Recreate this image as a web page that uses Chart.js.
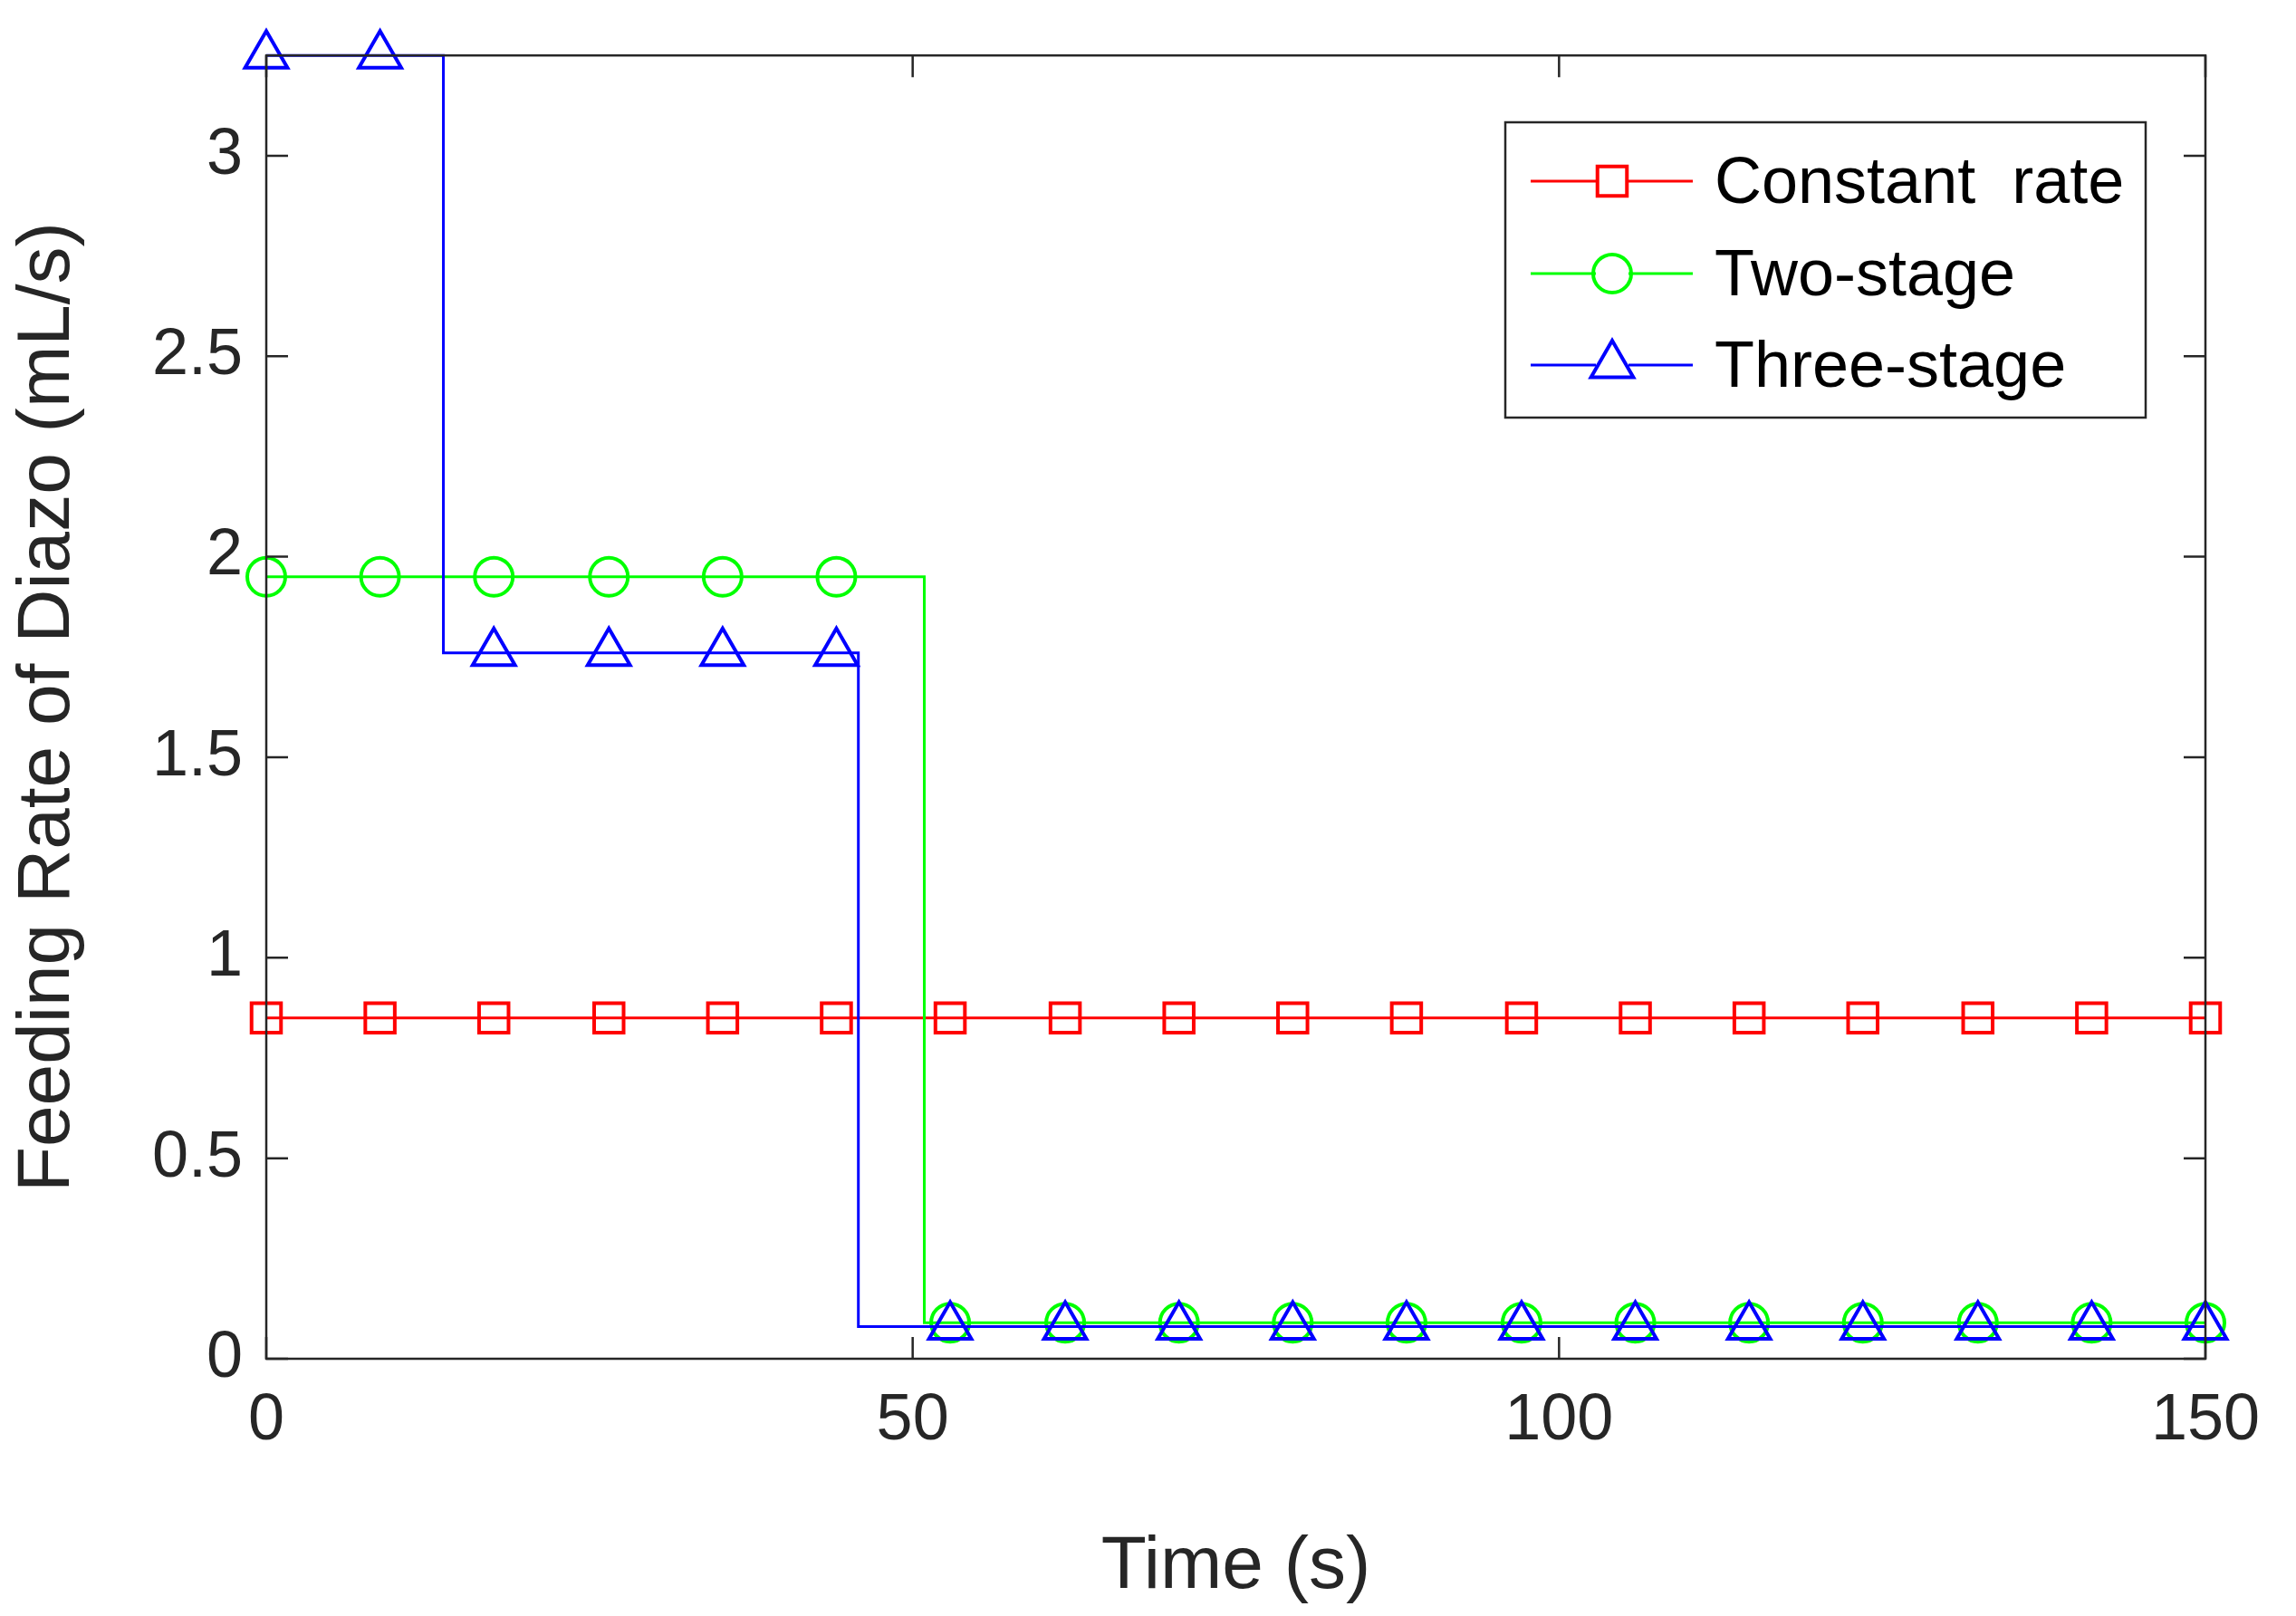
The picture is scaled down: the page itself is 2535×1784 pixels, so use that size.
<!DOCTYPE html>
<html><head><meta charset="utf-8">
<script src="https://cdn.jsdelivr.net/npm/chart.js@4"></script>
<style>html,body{margin:0;padding:0;background:#fff}</style>
</head><body>
<canvas id="c" width="2535" height="1784" style="width:2535px;height:1784px"></canvas>
<script>
const markerTimes=[0,8.8,17.6,26.5,35.3,44.1,52.9,61.8,70.6,79.4,88.2,97.1,105.9,114.7,123.5,132.4,141.2,150];
const constTimes=[0,150], constRates=[0.85,0.85];
const twoTimes=[0,50.9,50.9,150], twoRates=[1.95,1.95,0.09,0.09];
const threeTimes=[0,13.7,13.7,45.8,45.8,150], threeRates=[3.25,3.25,1.76,1.76,0.08,0.08];
const constMarkRates=markerTimes.map(()=>0.85);
const twoMarkRates=markerTimes.map(t=>t<50.9?1.95:0.09);
const threeMarkRates=markerTimes.map(t=>t<13.7?3.25:(t<45.8?1.76:0.08));
const xTicks=[0,50,100,150], yTicks=[0,0.5,1,1.5,2,2.5,3];
const names=['Constant  rate','Two-stage','Three-stage'];
const colors=['#ff0000','#00ff00','#0000ff'];
const styles=['rect','circle','triangle'];
const radii=[23,21,27];
const FONT='"Liberation Sans", Arial, sans-serif';
const pts=(xs,ys)=>xs.map((x,i)=>({x,y:ys[i]}));
const ds=[];
[[constTimes,constRates],[twoTimes,twoRates],[threeTimes,threeRates]].forEach((s,i)=>{
 ds.push({data:pts(s[0],s[1]),borderColor:colors[i],borderWidth:3,pointRadius:0,fill:false,showLine:true,order:3-i,clip:false});
});
[constMarkRates,twoMarkRates,threeMarkRates].forEach((r,i)=>{
 ds.push({data:pts(markerTimes,r),showLine:false,pointStyle:styles[i],pointRadius:radii[i],pointBorderColor:colors[i],pointBackgroundColor:'rgba(0,0,0,0)',pointBorderWidth:4,order:3-i,clip:false});
});
const txt='#262626';
const frame={id:'frame',afterDatasetsDraw(ch){
 const c=ch.ctx,a=ch.chartArea,x=ch.scales.x,y=ch.scales.y;
 c.save();c.strokeStyle=txt;c.lineWidth=2.5;
 c.strokeRect(a.left,a.top,a.right-a.left,a.bottom-a.top);
 const L=24;c.beginPath();
 xTicks.forEach(v=>{const p=x.getPixelForValue(v);c.moveTo(p,a.bottom);c.lineTo(p,a.bottom-L);c.moveTo(p,a.top);c.lineTo(p,a.top+L);});
 yTicks.forEach(v=>{const p=y.getPixelForValue(v);c.moveTo(a.left,p);c.lineTo(a.left+L,p);c.moveTo(a.right,p);c.lineTo(a.right-L,p);});
 c.stroke();
 const bx=1662,by=135,bw=707,bh=326;
 c.fillStyle='#fff';c.fillRect(bx,by,bw,bh);c.strokeStyle=txt;c.strokeRect(bx,by,bw,bh);
 const ys=[200,302,403];
 c.font='72px '+FONT;c.textBaseline='middle';
 names.forEach((n,i)=>{
  c.strokeStyle=colors[i];c.lineWidth=3;c.beginPath();c.moveTo(1690,ys[i]);c.lineTo(1869,ys[i]);c.stroke();
  c.fillStyle='#fff';c.fillRect(1780-18,ys[i]-18,36,36);
  c.fillStyle='rgba(0,0,0,0)';c.lineWidth=4;c.strokeStyle=colors[i];
  Chart.helpers.drawPoint(c,{pointStyle:styles[i],radius:radii[i],borderWidth:4},1780,ys[i]);
  c.fillStyle='#000';c.fillText(n,1893,ys[i]+4);
 });
 c.restore();
}};
new Chart(document.getElementById('c'),{type:'scatter',data:{datasets:ds},
options:{responsive:false,animation:false,devicePixelRatio:1,
 layout:{padding:{top:54,right:100,left:0,bottom:0}},
 plugins:{legend:{display:false},tooltip:{enabled:false}},
 scales:{
  x:{type:'linear',min:0,max:150,afterBuildTicks:s=>{s.ticks=xTicks.map(v=>({value:v}))},
     afterFit:s=>{s.height=284},
     grid:{display:false},border:{display:false},
     ticks:{color:txt,font:{size:72,family:FONT},padding:18,maxRotation:0,callback:v=>String(v)},
     title:{display:true,text:'Time (s)',color:txt,font:{size:82,family:FONT},padding:{top:0}}},
  y:{type:'linear',min:0,max:3.25,afterBuildTicks:s=>{s.ticks=yTicks.map(v=>({value:v}))},
     afterFit:s=>{s.width=294},
     grid:{display:false},border:{display:false},
     ticks:{color:txt,font:{size:72,family:FONT},padding:18,callback:v=>String(v)},
     title:{display:true,text:'Feeding Rate of Diazo (mL/s)',color:txt,font:{size:82,family:FONT},padding:{bottom:10}}}
 }},plugins:[frame]});
</script></body></html>
